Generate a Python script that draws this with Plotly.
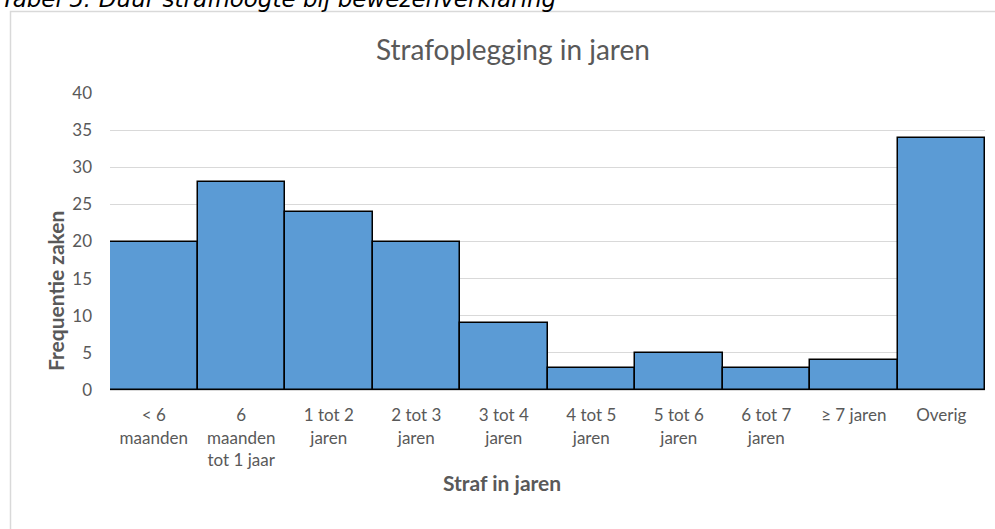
import plotly.graph_objects as go

categories = ["< 6<br>maanden", "6<br>maanden<br>tot 1 jaar", "1 tot 2<br>jaren", "2 tot 3<br>jaren",
              "3 tot 4<br>jaren", "4 tot 5<br>jaren", "5 tot 6<br>jaren", "6 tot 7<br>jaren",
              "≥ 7 jaren", "Overig"]
values = [20, 28, 24, 20, 9, 3, 5, 3, 4, 34]
y_ticks = [0, 5, 10, 15, 20, 25, 30, 35, 40]

TXT = "#595959"
FONT = "Lato"

fig = go.Figure(go.Bar(
    x=categories, y=values,
    marker=dict(color="#5b9bd5", line=dict(color="black", width=1.5)),
    hoverinfo="x+y",
))

W, H = 995, 529
L, R, T, B = 110, 10, 93, 139
pw, ph = W - L - R, H - T - B

def px(x):
    return (x - L) / pw

def py(y):
    return (H - B - y) / ph

fig.update_layout(
    width=W, height=H,
    margin=dict(l=L, r=R, t=T, b=B, pad=0),
    paper_bgcolor="white", plot_bgcolor="white",
    bargap=0,
    showlegend=False,
    font=dict(family=FONT, color=TXT, size=17),
    xaxis=dict(
        showgrid=False, showline=True, linecolor="#d9d9d9", linewidth=1,
        ticks="", tickfont=dict(size=17, color=TXT, family=FONT),
        ticklabelstandoff=10,
    ),
    yaxis=dict(
        range=[0, 40], tickvals=y_ticks, showgrid=True, gridcolor="#d9d9d9", gridwidth=1,
        zeroline=False, showline=False, ticks="",
        tickfont=dict(size=17, color=TXT, family=FONT), ticklabelstandoff=17,
    ),
    shapes=[
        dict(type="rect", xref="paper", yref="paper",
             x0=px(10.5), x1=px(1100), y0=py(11.5), y1=py(700),
             line=dict(color="#d9d9d9", width=1.5), fillcolor="rgba(0,0,0,0)", layer="below"),
    ],
    annotations=[
        dict(text="Tabel 5: Duur strafhoogte bij bewezenverklaring", xref="paper", yref="paper",
             x=px(-1), y=py(14), xanchor="left", yanchor="bottom", showarrow=False,
             font=dict(family="DejaVu Sans", size=23, color="black", style="italic")),
        dict(text="Strafoplegging in jaren", xref="paper", yref="paper",
             x=px(513), y=py(49), xanchor="center", yanchor="middle", showarrow=False,
             font=dict(family=FONT, size=28, color=TXT)),
        dict(text="<b>Frequentie zaken</b>", xref="paper", yref="paper",
             x=px(55), y=py(291), xanchor="center", yanchor="middle", showarrow=False,
             textangle=-90, font=dict(family=FONT, size=21, color=TXT)),
        dict(text="<b>Straf in jaren</b>", xref="paper", yref="paper",
             x=px(502), y=py(482), xanchor="center", yanchor="middle", showarrow=False,
             font=dict(family=FONT, size=21, color=TXT)),
    ],
)

fig.write_html("out.html", config={"displayModeBar": False},
               post_script="document.body.style.margin='0';")
